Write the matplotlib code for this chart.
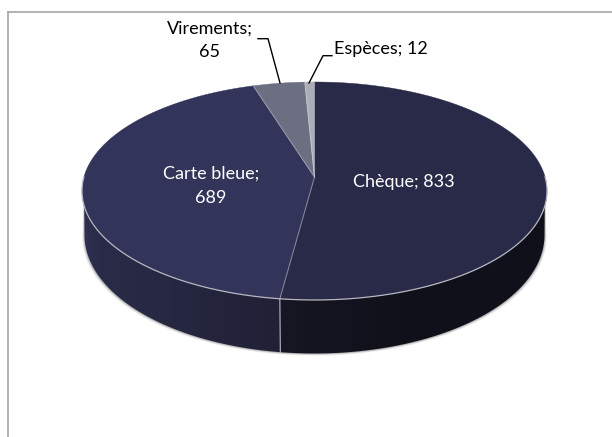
import numpy as np
import matplotlib
matplotlib.use('Agg')
import matplotlib.pyplot as plt
from matplotlib.lines import Line2D
from matplotlib.patches import Polygon

plt.rcParams['font.family'] = ['Lato', 'DejaVu Sans']

categories = ['Chèque', 'Carte bleue', 'Virements', 'Espèces']
values = [833, 689, 65, 12]
top_colors = ['#282a48', '#33345a', '#6c6e82', '#abadb8']

W, H = 612, 437
cx, cy, rx, ry = 314.5, 191, 232.5, 109
tilt = 0.128  # perspective, the apex sits above the middle of the ellipse


def fx(p):
    return p / W


def fy(p):
    return 1 - p / H


def rim(deg):
    # clockwise from 12 o'clock, circle to tilted disc in pixels
    a = np.radians(deg)
    u, v = np.sin(a), np.cos(a)
    n = 1 + tilt * v
    return cx + rx * u * np.sqrt(1 - tilt ** 2) / n, cy - ry * (v + tilt) / n


fig = plt.figure(figsize=(W / 100, H / 100), dpi=100)
fig.patch.set_facecolor('white')

# outer chart frame, only left and top show
fig.add_artist(Line2D([fx(8), fx(8)], [fy(437), fy(11.5)], color='#a6a6a6', lw=1.2))
fig.add_artist(Line2D([fx(8), fx(612)], [fy(11.5), fy(11.5)], color='#a6a6a6', lw=1.2))

# axes in pixels, y pointing down like the picture
ax = fig.add_axes([0, 0, 1, 1])
ax.set_xlim(0, W)
ax.set_ylim(H, 0)
ax.axis('off')
ax.patch.set_alpha(0)

# wall outline: front half of the top rim, then a slightly smaller lower ellipse
tr = np.radians(np.linspace(-7.5, 187.5, 200))
px = cx + rx * np.cos(tr)
py = cy + ry * np.sin(tr)
tl = np.radians(np.linspace(0, 180, 200))
low_x = cx + 230 * np.cos(tl)
low_y = 235 + 118.5 * np.sin(tl)
wall = np.c_[np.r_[px, low_x[::-1]], np.r_[py, low_y[::-1]]]

# soft grey edge round the wall
for grow, a in [(2.2, 0.12), (1.4, 0.22), (0.7, 0.35)]:
    ax.fill(np.r_[px, (low_x[::-1] - cx) * (1 + grow / 230) + cx],
            np.r_[py, low_y[::-1] + grow],
            color='#777777', alpha=a, lw=0, zorder=1)

# wall shading left to right
seam_x, seam_y = rim(360 * values[0] / sum(values))
xs = np.linspace(cx - rx, cx + rx, 466)
stops_x = [cx - rx, 100, seam_x - 1, seam_x + 1, 400, cx + rx]
stops_c = np.array([[0x30, 0x31, 0x52], [0x2a, 0x2b, 0x48], [0x20, 0x21, 0x36],
                    [0x16, 0x16, 0x24], [0x11, 0x11, 0x1b], [0x10, 0x10, 0x1a]]) / 255
grad = np.stack([np.interp(xs, stops_x, stops_c[:, i]) for i in range(3)], axis=1)[None, :, :]
im = ax.imshow(grad, extent=[cx - rx, cx + rx, 360, 190], aspect='auto', zorder=2)
im.set_clip_path(Polygon(wall, closed=True, transform=ax.transData))
ax.set_xlim(0, W)
ax.set_ylim(H, 0)

# top face, slices from the values
cum = np.cumsum([0] + values) / sum(values) * 360
apex = (cx, cy - ry * tilt)
for i in range(len(values)):
    arc = np.linspace(cum[i], cum[i + 1], 120)
    ex, ey = rim(arc)
    ax.fill(np.r_[apex[0], ex], np.r_[apex[1], ey], color=top_colors[i], lw=0.3,
            ec=top_colors[i], zorder=3)

# seams between slices
for i, c in zip([1, 2, 3], ['#8a8b9c', '#9a9baa', '#c4c5cc']):
    ex, ey = rim(cum[i])
    ax.plot([apex[0], ex], [apex[1], ey], color=c, lw=0.7, zorder=4)
ax.plot([seam_x, seam_x + 0.5], [seam_y, 353], color='#b9bac4', lw=0.8, zorder=4)

# light front rim
ax.plot(px, py, color='#b5b6c0', lw=0.9, zorder=4)

# labels and leader lines
lab = dict(ha='center', va='center', fontsize=13, zorder=6)
ax.text(404, 182, f'{categories[0]}; {values[0]}', color='white', **lab)
ax.text(211, 186, f'{categories[1]};\n{values[1]}', color='white', linespacing=1.6, **lab)
ax.text(210, 40.5, f'{categories[2]};\n{values[2]}', color='black', linespacing=1.6, **lab)
ax.text(381, 49, f'{categories[3]}; {values[3]}', color='black', **lab)

ax.plot([258, 268, 280], [38.7, 38.7, 83], color='black', lw=1, zorder=5)
ax.plot([332, 323, 309], [55.7, 55.7, 83], color='black', lw=1, zorder=5)

fig.savefig('out.png', dpi=100)
